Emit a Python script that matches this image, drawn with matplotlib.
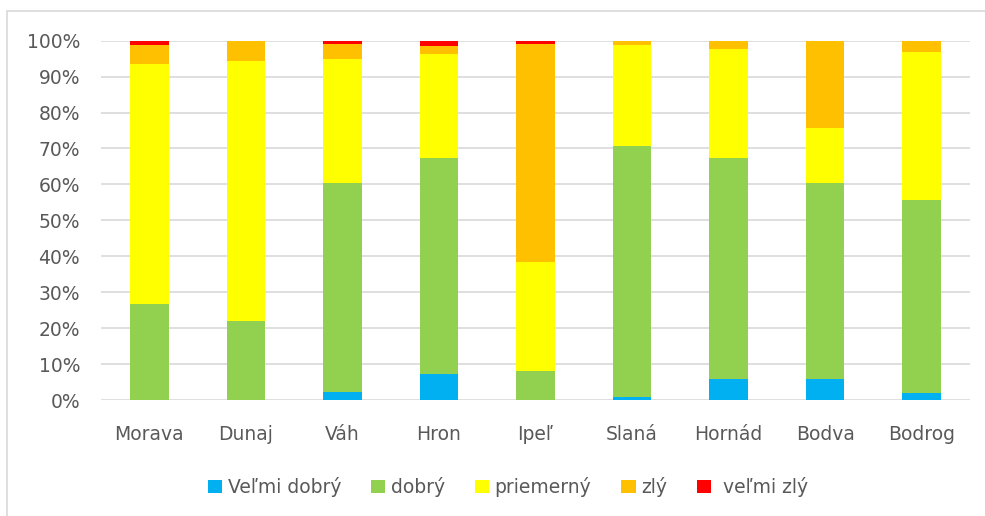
import matplotlib
matplotlib.use("Agg")
import matplotlib.pyplot as plt
import matplotlib.patches as mpatches
import numpy as np

rivers = ["Morava", "Dunaj", "Váh", "Hron", "Ipeľ",
          "Slaná", "Hornád", "Bodva", "Bodrog"]
series_names = ["Veľmi dobrý", "dobrý", "priemerný", "zlý", " veľmi zlý"]
velmi_dobry = [0.0, 0.0, 2.3, 7.2, 0.0, 0.9, 5.8, 5.9, 2.0]
dobry = [26.7, 22.0, 58.1, 60.2, 8.0, 69.8, 61.6, 54.5, 53.7]
priemerny = [66.9, 72.4, 34.5, 28.9, 30.4, 28.1, 30.3, 15.3, 41.1]
zly = [5.2, 5.6, 4.2, 2.1, 60.8, 1.2, 2.3, 24.3, 3.2]
velmi_zly = [1.2, 0.0, 0.9, 1.6, 0.8, 0.0, 0.0, 0.0, 0.0]
colors = ["#00B0F0", "#92D050", "#FFFF00", "#FFC000", "#FF0000"]
yticks = np.arange(0, 101, 10)

W, H = 985, 516
fig = plt.figure(figsize=(W / 100, H / 100), dpi=100)
ax = fig.add_axes([101 / W, (H - 400) / H, (970 - 101) / W, (400 - 40.7) / H])

# outer frame of the chart area (right/bottom cut off)
fig.patches.append(mpatches.Rectangle((7 / W, -0.1), 1.2, (H - 11) / H + 0.1,
                                      transform=fig.transFigure, fill=False,
                                      edgecolor="#D9D9D9", lw=1.2))

x = np.arange(len(rivers))
bottom = np.zeros(len(rivers))
for name, vals, c in zip(series_names,
                         [velmi_dobry, dobry, priemerny, zly, velmi_zly],
                         colors):
    vals = np.array(vals)
    ax.bar(x, vals, bottom=bottom, width=0.4, color=c, label=name, zorder=3)
    bottom += vals

ax.set_xlim(-0.5, len(rivers) - 0.5)
ax.set_ylim(0, 100)
ax.set_yticks(yticks)
ax.set_yticklabels(["%d%%" % v for v in yticks])
ax.set_xticks(x)
ax.set_xticklabels(rivers)
ax.grid(axis="y", color="#D9D9D9", lw=1.2, zorder=0)
ax.set_axisbelow(True)
for s in ax.spines.values():
    s.set_visible(False)
ax.tick_params(length=0, labelsize=13.5, colors="#595959")
ax.tick_params(axis="y", pad=15)
ax.tick_params(axis="x", pad=18)

fig.legend(loc="center", bbox_to_anchor=(508 / W, 1 - 487 / H), ncol=5,
           frameon=False, handlelength=0.75, handleheight=0.75,
           handletextpad=0.3, columnspacing=1.6,
           prop={"size": 13.5}, labelcolor="#595959")

fig.savefig("out.png", dpi=100)
